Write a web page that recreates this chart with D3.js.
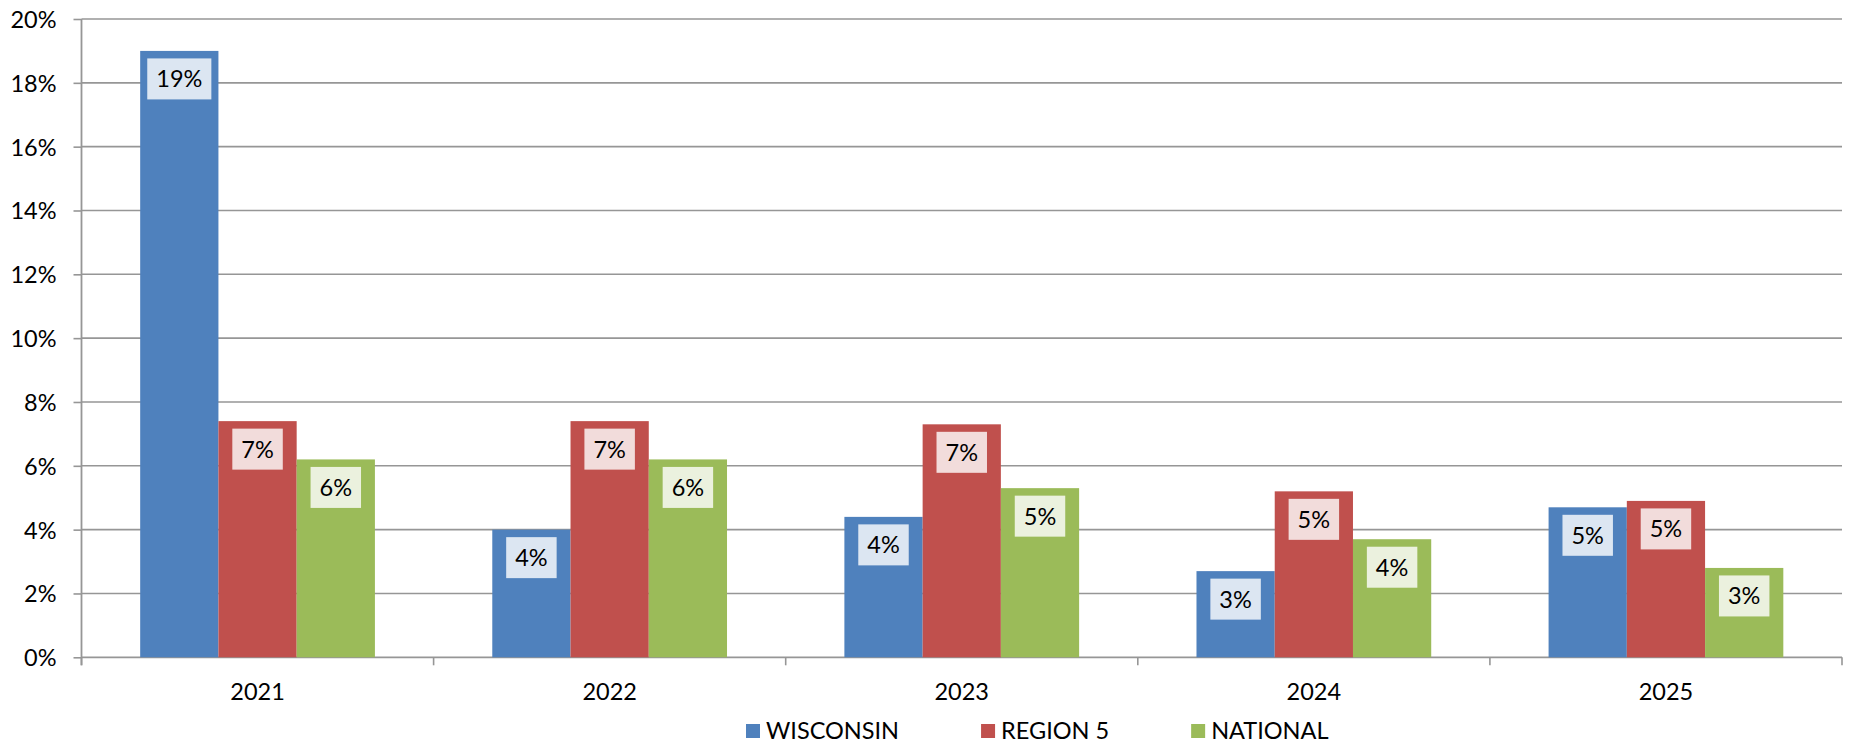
<!DOCTYPE html>
<html lang="en">
<head>
    <meta charset="UTF-8">
    <title>Wisconsin vs Region 5 vs National</title>
    <script src="https://d3js.org/d3.v7.min.js" charset="utf-8"></script>
    <style>
        body { margin: 0; background: #fff; }
        text { font-family: Lato, "Open Sans", sans-serif; fill: #000; }
    </style>
</head>
<body>
<script>
    // data (percent)
    var years = ["2021", "2022", "2023", "2024", "2025"];
    var seriesNames = ["WISCONSIN", "REGION 5", "NATIONAL"];
    var wisconsin = [19.0, 4.0, 4.4, 2.7, 4.7];
    var region5 = [7.4, 7.4, 7.3, 5.2, 4.9];
    var national = [6.2, 6.2, 5.3, 3.7, 2.8];
    var yTicks = [0, 2, 4, 6, 8, 10, 12, 14, 16, 18, 20];

    var colors = ["#4f81bd", "#c0504d", "#9bbb59"];
    var labelFills = ["#dce6f2", "#f2dcdb", "#ebf1de"];
    var fontSize = "23.5px";

    var W = 1854, H = 743;
    var margin = {top: 19, right: 12, bottom: 85.7, left: 81.5},
        width = W - margin.left - margin.right,
        height = H - margin.top - margin.bottom;

    var svg = d3.select("body").append("svg")
        .attr("width", W)
        .attr("height", H);

    var g = svg.append("g")
        .attr("transform", "translate(" + margin.left + "," + margin.top + ")");

    // scales
    var x0 = d3.scaleBand().domain(years).range([0, width]).paddingInner(0).paddingOuter(0);
    // gap width 150% of a bar: 3 bars + 1.5 bar gap
    var groupW = x0.bandwidth() * 3 / 4.5;
    var x1 = d3.scaleBand().domain(seriesNames).range([0, groupW]).padding(0);
    var y = d3.scaleLinear().domain([0, 20]).range([height, 0]);

    // gridlines
    g.append("g").selectAll("line").data(yTicks.slice(1)).enter()
        .append("line")
        .attr("x1", 0).attr("x2", width)
        .attr("y1", function(d) { return y(d); })
        .attr("y2", function(d) { return y(d); })
        .attr("stroke", "#969696")
        .attr("stroke-width", 1.6);

    // y axis
    var yAxis = g.append("g")
        .call(d3.axisLeft(y).tickValues(yTicks).tickSize(8).tickPadding(17)
            .tickFormat(function(d) { return d + "%"; }));
    yAxis.select(".domain").attr("stroke", "#969696").attr("stroke-width", 1.8)
        .attr("d", "M0," + (height + 8) + "V0");
    yAxis.selectAll(".tick line").attr("stroke", "#969696").attr("stroke-width", 1.6);
    yAxis.selectAll(".tick text").style("font-size", fontSize).attr("dy", "0.36em");

    // x axis
    var xAxis = g.append("g").attr("transform", "translate(0," + height + ")");
    xAxis.append("line")
        .attr("x1", 0).attr("x2", width)
        .attr("stroke", "#969696").attr("stroke-width", 1.8);
    xAxis.selectAll(".sep").data(years.concat(["end"])).enter()
        .append("line")
        .attr("x1", function(d, i) { return i < years.length ? x0(d) : width; })
        .attr("x2", function(d, i) { return i < years.length ? x0(d) : width; })
        .attr("y1", 0).attr("y2", 8)
        .attr("stroke", "#969696").attr("stroke-width", 1.6);
    xAxis.selectAll(".cat").data(years).enter()
        .append("text")
        .attr("x", function(d) { return x0(d) + x0.bandwidth() / 2; })
        .attr("y", 43)
        .attr("text-anchor", "middle")
        .style("font-size", fontSize)
        .text(function(d) { return d; });

    // bars
    var allSeries = [wisconsin, region5, national];
    var rows = [];
    years.forEach(function(yr, i) {
        seriesNames.forEach(function(s, j) {
            rows.push({year: yr, series: s, idx: j, value: allSeries[j][i]});
        });
    });

    var offset = (x0.bandwidth() - groupW) / 2;
    var bars = g.append("g").selectAll("g").data(rows).enter().append("g")
        .attr("transform", function(d) {
            return "translate(" + (x0(d.year) + offset + x1(d.series)) + ",0)";
        });

    bars.append("rect")
        .attr("x", 0)
        .attr("y", function(d) { return y(d.value); })
        .attr("width", x1.bandwidth())
        .attr("height", function(d) { return height - y(d.value); })
        .attr("fill", function(d) { return colors[d.idx]; });

    // data labels in tinted boxes
    var fmt = d3.format(".0f");
    bars.each(function(d) {
        var b = d3.select(this);
        var box = b.append("rect").attr("fill", labelFills[d.idx]);
        var t = b.append("text")
            .attr("x", x1.bandwidth() / 2)
            .attr("y", y(d.value) + 7.5 + 20.5)
            .attr("dy", "0.36em")
            .attr("text-anchor", "middle")
            .style("font-size", fontSize)
            .text(fmt(d.value) + "%");
        var tw = t.node().getComputedTextLength();
        box.attr("x", x1.bandwidth() / 2 - tw / 2 - 9)
            .attr("y", y(d.value) + 7.5)
            .attr("width", tw + 18)
            .attr("height", 41);
    });

    // legend
    var legend = svg.append("g").attr("transform", "translate(746,0)");
    var lx = 0;
    seriesNames.forEach(function(s, i) {
        legend.append("rect")
            .attr("x", lx).attr("y", 724)
            .attr("width", 14).attr("height", 14)
            .attr("fill", colors[i]);
        var t = legend.append("text")
            .attr("x", lx + 20).attr("y", 738.5)
            .style("font-size", fontSize)
            .text(s);
        lx += 20 + t.node().getComputedTextLength() + 82;
    });
</script>
</body>
</html>
